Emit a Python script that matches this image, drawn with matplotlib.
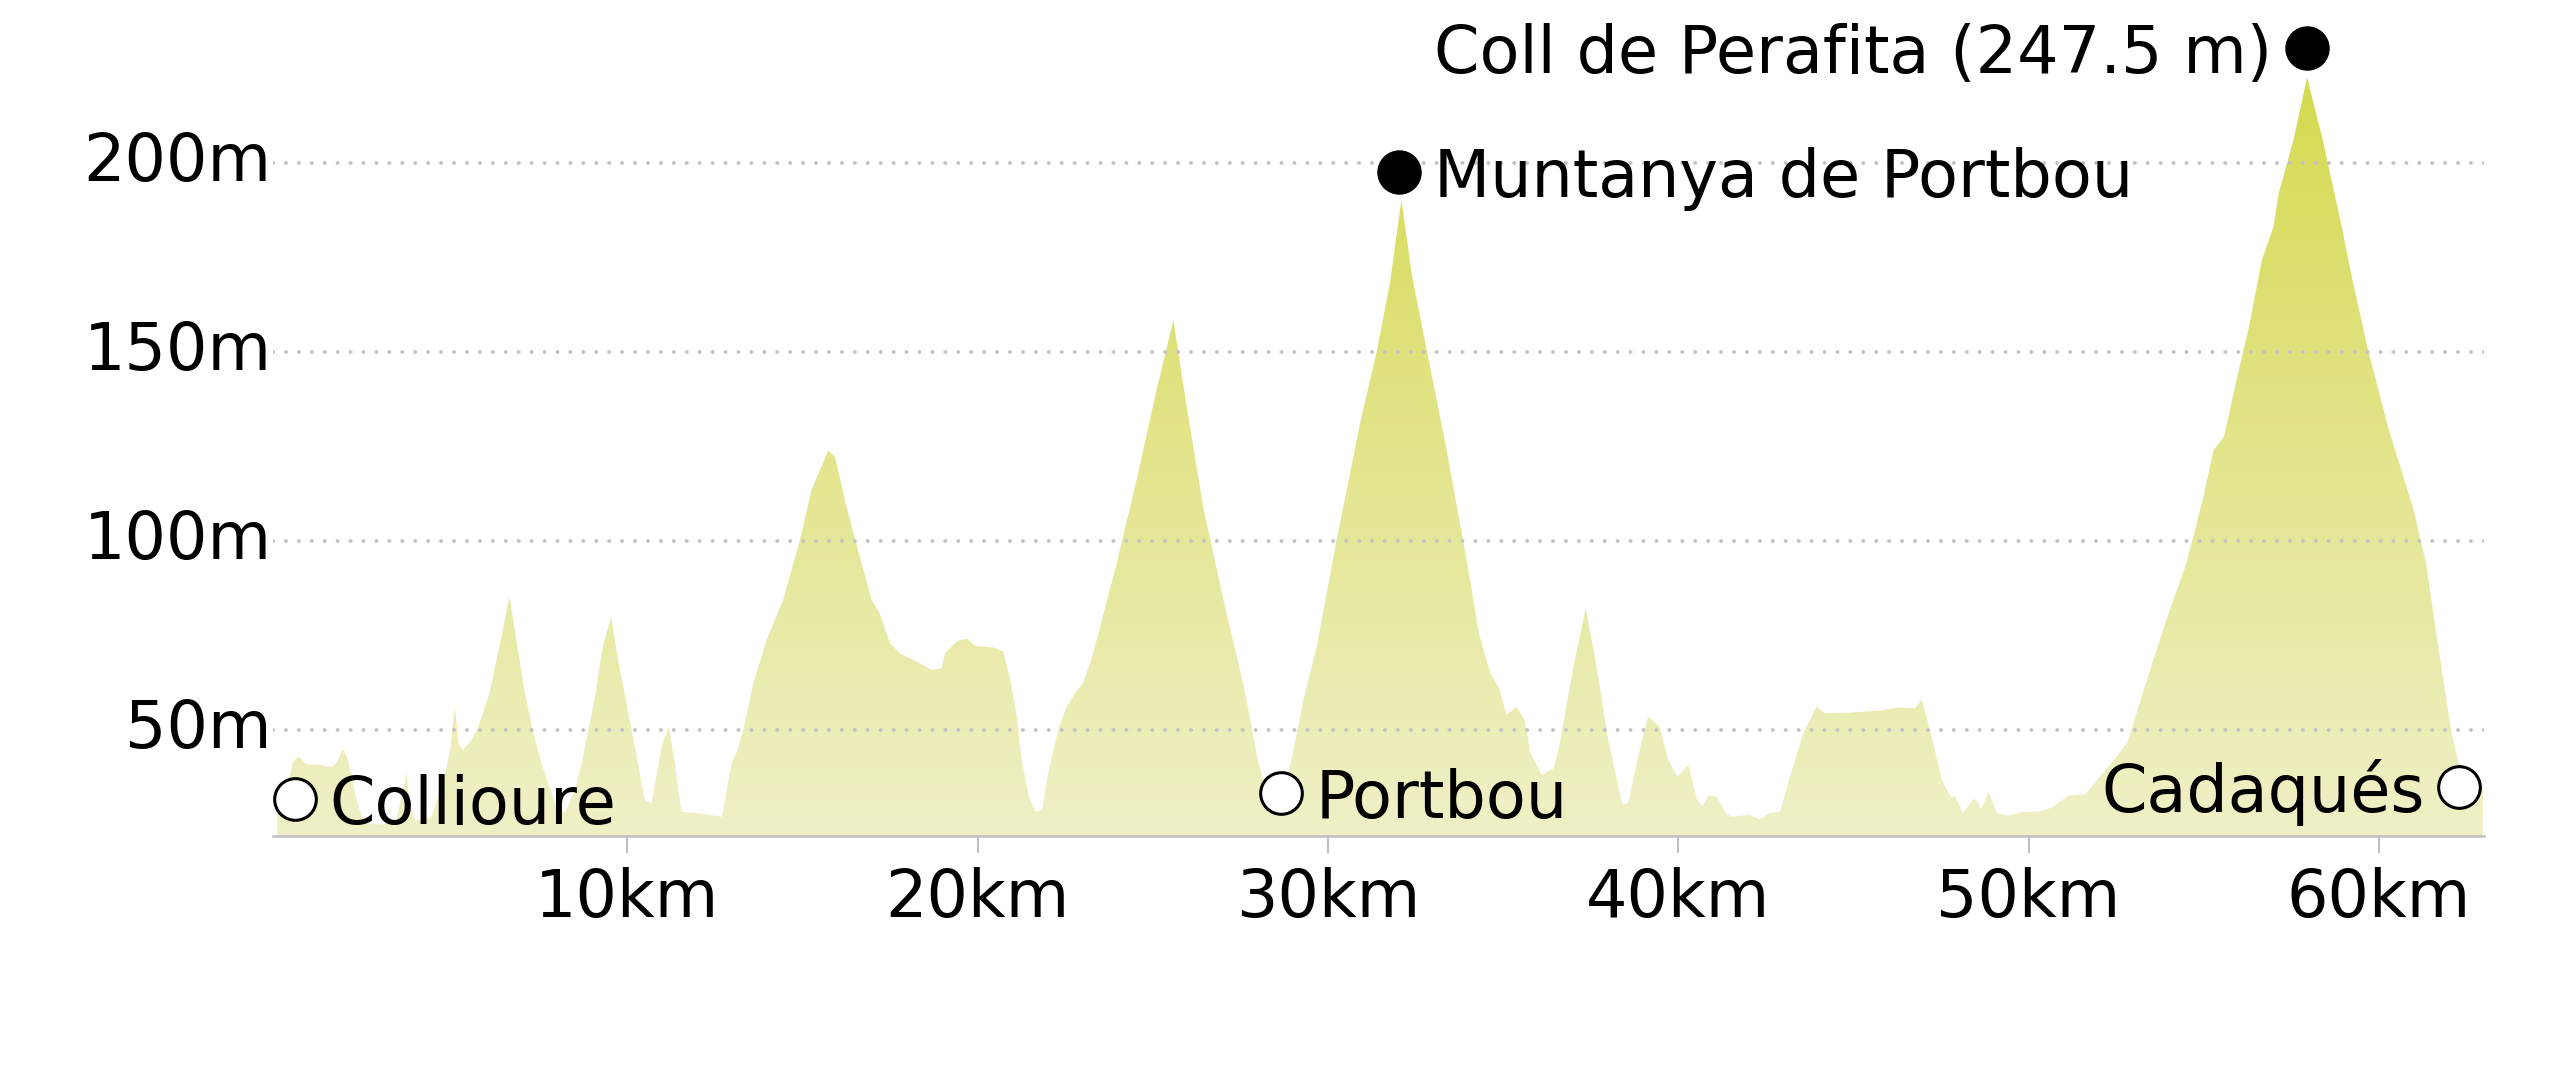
import numpy as np
import matplotlib
matplotlib.use("Agg")
import matplotlib.pyplot as plt
import matplotlib.transforms as mtransforms
from matplotlib.patches import Polygon
from matplotlib.colors import LinearSegmentedColormap

# elevation profile (km, m)
dist_km = [
    0.00, 0.35, 0.45, 0.62, 0.85, 1.20, 1.56, 1.72, 1.87, 2.00, 2.15, 2.30, 2.50,
    3.00, 3.40, 3.62, 3.70, 3.80, 3.95, 4.40, 4.75, 4.95, 5.08, 5.20, 5.32, 5.55,
    5.75, 6.07, 6.35, 6.64, 6.85, 7.05, 7.30, 7.56, 7.94, 8.22, 8.50, 8.70, 9.08,
    9.30, 9.54, 9.75, 10.00, 10.22, 10.50, 10.70, 10.98, 11.19, 11.36, 11.55, 12.03,
    12.70, 12.98, 13.12, 13.31, 13.60, 13.98, 14.45, 14.93, 15.26, 15.74, 15.93,
    16.26, 16.64, 16.98, 17.21, 17.50, 17.79, 18.36, 18.69, 18.97, 19.07, 19.40,
    19.69, 19.93, 20.45, 20.73, 20.92, 21.12, 21.26, 21.45, 21.64, 21.84, 22.00,
    22.10, 22.30, 22.54, 22.80, 23.02, 23.30, 23.97, 24.54, 25.11, 25.59, 25.97,
    26.44, 27.02, 27.49, 27.68, 28.00, 28.25, 28.50, 28.74, 28.98, 29.30, 29.68,
    30.25, 30.92, 31.39, 31.77, 32.10, 32.39, 32.82, 33.39, 34.01, 34.31, 34.64,
    34.89, 35.10, 35.38, 35.62, 35.78, 36.11, 36.44, 36.60, 37.01, 37.36, 37.67,
    38.00, 38.41, 38.57, 38.90, 39.14, 39.47, 39.72, 39.97, 40.29, 40.54, 40.70,
    40.86, 41.10, 41.36, 41.52, 42.01, 42.33, 42.58, 42.91, 43.16, 43.57, 43.95,
    44.18, 44.80, 45.62, 46.33, 46.76, 46.95, 47.23, 47.53, 47.77, 47.91, 48.13,
    48.40, 48.50, 48.65, 48.86, 49.10, 49.46, 49.82, 50.30, 50.66, 51.14, 51.62,
    52.34, 52.82, 53.30, 53.90, 54.50, 54.98, 55.28, 55.58, 55.94, 56.30, 56.66,
    56.99, 57.14, 57.56, 57.95, 58.40, 58.94, 59.19, 59.67, 60.27, 60.99, 61.35,
    61.71, 62.07, 62.31, 62.60, 62.97,
]
elev_m = [
    33.0, 37.0, 41.5, 43.0, 41.0, 40.8, 40.3, 41.5, 45.0, 43.0, 37.0, 30.5, 25.5,
    25.0, 26.0, 35.0, 38.6, 30.0, 26.0, 27.0, 36.0, 45.0, 56.0, 46.0, 44.8, 47.4,
    50.9, 59.8, 72.0, 85.3, 73.0, 61.5, 50.0, 41.0, 30.7, 28.0, 34.0, 41.2, 58.8,
    72.0, 80.0, 68.0, 56.2, 45.6, 31.5, 30.7, 45.6, 51.0, 41.2, 28.4, 28.0,
    27.1, 41.2, 44.0, 50.0, 62.4, 73.9, 84.4, 100.3, 113.5, 124.0, 122.3,
    109.1, 95.9, 84.4, 80.9, 73.0, 70.3, 67.7, 65.9, 66.4, 70.3, 73.4,
    74.3, 72.3, 71.9, 70.8, 64.1, 53.6, 42.1, 33.0, 28.4, 28.9, 38.0,
    42.0, 50.0, 56.2, 60.0, 62.5, 70.3, 94.1, 116.2, 140.0, 158.5, 135.6,
    109.1, 84.4, 65.9, 58.0, 42.0, 34.0, 32.0, 34.0, 43.0, 58.0, 72.1,
    100.3, 131.2, 150.0, 168.2, 190.3, 170.8, 150.6, 124.1, 92.4, 75.6, 65.0,
    61.0, 54.0, 56.2, 52.7, 43.9, 38.1, 39.9, 45.6, 66.8, 82.2, 66.8,
    47.4, 30.2, 30.7, 44.8, 53.6, 50.9, 42.1, 37.7, 40.8, 31.5, 29.8,
    32.8, 32.4, 28.0, 27.1, 27.6, 26.4, 28.0, 28.4, 36.8, 49.2, 56.2,
    54.5, 54.6, 55.1, 56.0, 55.8, 58.2, 48.5, 36.7, 32.4, 32.4, 28.0,
    31.5, 31.7, 29.0, 33.8, 28.0, 27.4, 28.3, 28.5, 29.5, 32.7, 33.1,
    41.0, 46.7, 61.0, 78.3, 94.0, 111.3, 124.1, 127.7, 142.8, 157.1, 174.4,
    183.2, 192.0, 206.1, 222.7, 206.1, 183.2, 171.5, 151.4, 129.9, 108.4, 94.0,
    71.1, 49.6, 40.0, 36.0, 35.0,
]

y_ticks = [50, 100, 150, 200]
y_tick_labels = ["50m", "100m", "150m", "200m"]
x_ticks = [10, 20, 30, 40, 50, 60]
x_tick_labels = ["10km", "20km", "30km", "40km", "50km", "60km"]

towns = ["Collioure", "Portbou", "Cadaqués"]
town_km = [0.51, 28.66, 62.30]
town_m = [31.7, 33.5, 35.0]
town_side = [1, 1, -1]

peaks = ["Muntanya de Portbou", "Coll de Perafita (247.5 m)"]
peak_km = [32.04, 57.94]
peak_m = [197.7, 230.6]
peak_side = [1, -1]

Y_MIN = 22
FS = 47

plt.rcParams["font.family"] = ["DejaVu Sans"]

fig = plt.figure(figsize=(25.6, 10.66), dpi=100)
ax = fig.add_axes([273 / 2560, 230 / 1066, (2484 - 273) / 2560, 836 / 1066])

# gradient fill clipped to the profile
verts = [(dist_km[0], Y_MIN)] + list(zip(dist_km, elev_m)) + [(dist_km[-1], Y_MIN)]
patch = Polygon(verts, closed=True, facecolor="none", edgecolor="none")
ax.add_patch(patch)
cmap = LinearSegmentedColormap.from_list("elev", ["#f0f0c8", "#d5da50"])
grad = np.linspace(0, 1, 256).reshape(-1, 1)
img = ax.imshow(grad, extent=[dist_km[0], dist_km[-1], Y_MIN, max(elev_m)],
                origin="lower", aspect="auto", cmap=cmap, zorder=1,
                interpolation="bicubic")
img.set_clip_path(patch)

for v in y_ticks:
    ax.axhline(v, color="#c4c4c4", lw=2.9, linestyle=(0, (0.01, 3.2)),
               dash_capstyle="round", zorder=2)

ax.set_xlim(-0.11, 63.0)
ax.set_ylim(Y_MIN, 243.2)

# markers and labels
ax.plot(town_km, town_m, "o", ms=30, mfc="white", mec="black", mew=2.2,
        zorder=4, clip_on=False)
ax.plot(peak_km, peak_m, "o", ms=31, color="black", zorder=4, clip_on=False)

for name, x, y, side in zip(towns + peaks, town_km + peak_km, town_m + peak_m,
                            town_side + peak_side):
    ax.annotate(name, (x, y), xytext=(25 * side, -18), textcoords="offset points",
                ha="left" if side > 0 else "right", va="baseline",
                fontsize=FS, color="black", zorder=5, annotation_clip=False)

ax.set_xticks(x_ticks, x_tick_labels)
ax.set_yticks(y_ticks, y_tick_labels)
ax.tick_params(axis="x", length=12, width=1.5, color="#c0c0c0", pad=10,
               labelsize=FS)
ax.tick_params(axis="y", length=0, pad=1, labelsize=FS)

# y labels sit a little above their gridline
shift = mtransforms.ScaledTranslation(0, 5 / 72, fig.dpi_scale_trans)
for lab in ax.get_yticklabels():
    lab.set_transform(lab.get_transform() + shift)

for s in ["top", "right", "left"]:
    ax.spines[s].set_visible(False)
ax.spines["bottom"].set_color("#c0c0c0")
ax.spines["bottom"].set_linewidth(1.8)

fig.savefig("out.png", dpi=100)
